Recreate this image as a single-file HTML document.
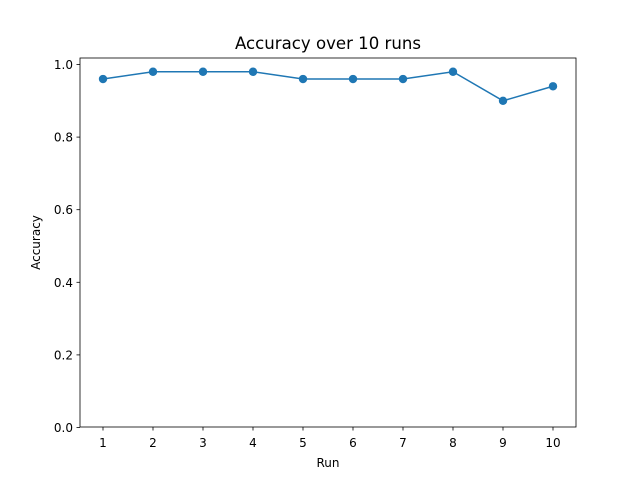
<!DOCTYPE html>
<html><head><meta charset="utf-8">
<style>
body{margin:0;background:#fff;}
svg{display:block;font-family:"DejaVu Sans","Liberation Sans",sans-serif;}
</style></head>
<body>
<svg id="chart" width="640" height="480">
  <rect width="640" height="480" fill="#fff"/>
  <text x="328" y="49" text-anchor="middle" font-size="16.5" textLength="186" lengthAdjust="spacingAndGlyphs">Accuracy over 10 runs</text>
  <g id="axes"></g>
  <rect x="80" y="58" width="496" height="369" fill="none" stroke="#000" stroke-width="0.8"/>
  <text x="328" y="467" text-anchor="middle" font-size="12">Run</text>
  <text transform="translate(40,242.5) rotate(-90)" text-anchor="middle" font-size="12">Accuracy</text>
</svg>
<script>
const runs = [1,2,3,4,5,6,7,8,9,10];
const accuracy = [0.96,0.98,0.98,0.98,0.96,0.96,0.96,0.98,0.90,0.94];
const yTicks = [0.0,0.2,0.4,0.6,0.8,1.0];
const yTickLabels = ["0.0","0.2","0.4","0.6","0.8","1.0"];

const NS = "http://www.w3.org/2000/svg";
const g = document.getElementById('axes');
function xs(v){ return 103 + (v-1)*50; }
function ys(v){ return 427.5 - v*363; }
function mk(tag, attrs){ const e=document.createElementNS(NS,tag); for(const k in attrs) e.setAttribute(k,attrs[k]); g.appendChild(e); return e; }

runs.forEach(r=>{
  const t = mk('line',{x1:xs(r),x2:xs(r),y1:427,y2:430.5,stroke:'#000','stroke-width':0.8});
  
  
  const l = mk('text',{x:xs(r),y:447,'text-anchor':'middle','font-size':12});
  l.textContent = r;
  
  
});
yTicks.forEach((v,i)=>{
  const t = mk('line',{x1:76.5,x2:80,y1:ys(v),y2:ys(v),stroke:'#000','stroke-width':0.8});
  
  
  const l = mk('text',{x:73,y:ys(v)+4.5,'text-anchor':'end','font-size':12});
  l.textContent = yTickLabels[i];
  
  
});
const pts = runs.map((r,i)=>xs(r)+','+ys(accuracy[i])).join(' ');
const line = mk('polyline',{points:pts,fill:'none',stroke:'#1f77b4','stroke-width':1.5});


runs.forEach((r,i)=>{
  const c = mk('circle',{cx:xs(r),cy:ys(accuracy[i]),r:4.2,fill:'#1f77b4'});
  
  
});
</script>
</body></html>
